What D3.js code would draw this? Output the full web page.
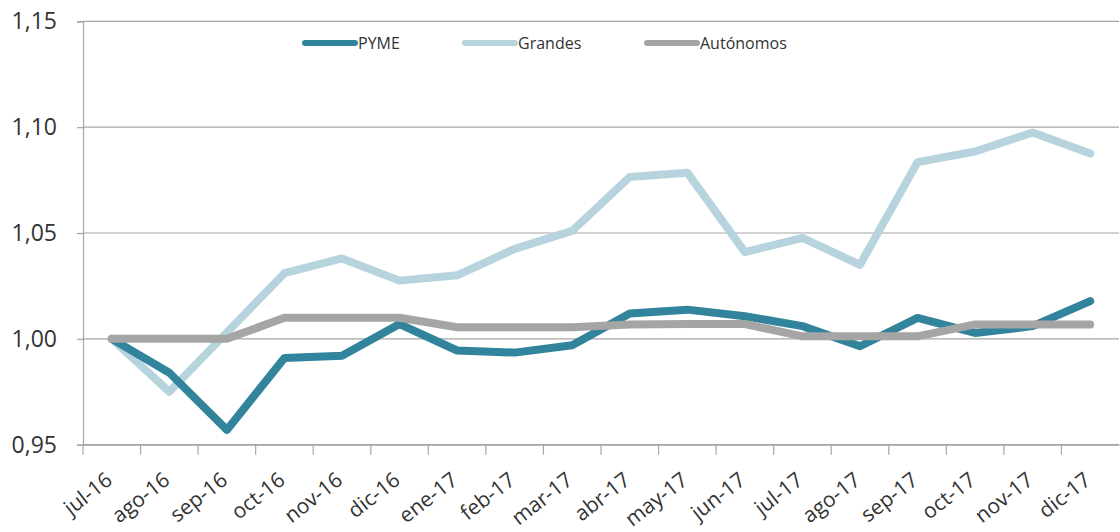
<!DOCTYPE html>
<html><head><meta charset="utf-8">
<script src="https://cdn.jsdelivr.net/npm/d3@7/dist/d3.min.js"></script>
<style>body{margin:0;background:#fff}svg{display:block}</style>
</head><body><div id="chart"></div>
<script>
const categories = ["jul-16","ago-16","sep-16","oct-16","nov-16","dic-16","ene-17","feb-17","mar-17","abr-17","may-17","jun-17","jul-17","ago-17","sep-17","oct-17","nov-17","dic-17"];
const pyme = [1.000,0.984,0.957,0.991,0.992,1.007,0.9945,0.9935,0.997,1.012,1.0138,1.0107,1.006,0.9965,1.0099,1.0028,1.006,1.0178];
const grandes = [1.000,0.975,1.003,1.031,1.038,1.0275,1.030,1.0425,1.051,1.0765,1.0785,1.041,1.0477,1.035,1.0835,1.0885,1.0975,1.0875];
const autonomos = [1.000,1.000,1.000,1.010,1.010,1.010,1.0055,1.0055,1.0055,1.0068,1.007,1.007,1.0012,1.0012,1.0012,1.0068,1.0068,1.0068];
const yTicks = [0.95,1.00,1.05,1.10,1.15];
const seriesNames = ["PYME","Grandes","Autónomos"];
const seriesColors = ["#31849b","#b7d4de","#a5a5a5"];

const W = 1120, H = 532;
const m = {left:83, right:1, top:21.3, bottom:87.3};
const svg = d3.select("#chart").append("svg").attr("width",W).attr("height",H);
const x = d3.scaleBand().domain(categories).range([m.left, W-m.right]);
const y = d3.scaleLinear().domain([0.95,1.15]).range([H-m.bottom, m.top]);

// gridlines
svg.append("g").selectAll("line").data(yTicks).join("line")
  .attr("x1",m.left).attr("x2",W-m.right)
  .attr("y1",d=>y(d)).attr("y2",d=>y(d))
  .attr("stroke","#a6a6a6").attr("stroke-width",1.2);

// y axis
const yAxis = svg.append("g").attr("transform",`translate(${m.left},0)`)
  .call(d3.axisLeft(y).tickValues(yTicks).tickSize(6).tickPadding(20)
    .tickFormat(d=>d3.format(".2f")(d).replace(".",",")));
yAxis.select(".domain").attr("stroke","#a6a6a6").attr("stroke-width",1.2);
yAxis.selectAll(".tick line").attr("stroke","#a6a6a6").attr("stroke-width",1.2);
yAxis.selectAll("text").attr("font-family","'Open Sans', sans-serif").attr("font-size",23).attr("fill","#333");

// x axis
const xAxis = svg.append("g").attr("transform",`translate(0,${H-m.bottom})`)
  .call(d3.axisBottom(x).tickSize(0).tickPadding(0));
xAxis.select(".domain").attr("stroke","#a6a6a6").attr("stroke-width",1.2);
const bounds = categories.map(c=>x(c));
svg.append("g").selectAll("line").data(bounds).join("line")
  .attr("x1",d=>d).attr("x2",d=>d).attr("y1",H-m.bottom).attr("y2",H-m.bottom+10)
  .attr("stroke","#a6a6a6").attr("stroke-width",1.2);
xAxis.selectAll(".tick text")
  .attr("font-family","'Open Sans', sans-serif").attr("font-size",21).attr("fill","#333")
  .attr("text-anchor","end").attr("dy",0).attr("y",0)
  .attr("transform","translate(2,38) rotate(-38)");

// lines
const allSeries = [pyme, grandes, autonomos];
const line = d3.line().x((d,i)=>x(categories[i])+x.bandwidth()/2).y(d=>y(d));
[1,0,2].forEach(k=>{
  svg.append("path").datum(allSeries[k]).attr("d",line)
    .attr("fill","none").attr("stroke",seriesColors[k]).attr("stroke-width",8)
    .attr("stroke-linejoin","round").attr("stroke-linecap","round");
});

// legend
const legX = [305,465,647];
const leg = svg.append("g");
seriesNames.forEach((n,i)=>{
  leg.append("line").attr("x1",legX[i]).attr("x2",legX[i]+50).attr("y1",43).attr("y2",43)
    .attr("stroke",seriesColors[i]).attr("stroke-width",6).attr("stroke-linecap","round");
  leg.append("text").attr("x",legX[i]+53).attr("y",49).text(n)
    .attr("font-family","'Open Sans', sans-serif").attr("font-size",16).attr("fill","#333");
});
</script></body></html>
